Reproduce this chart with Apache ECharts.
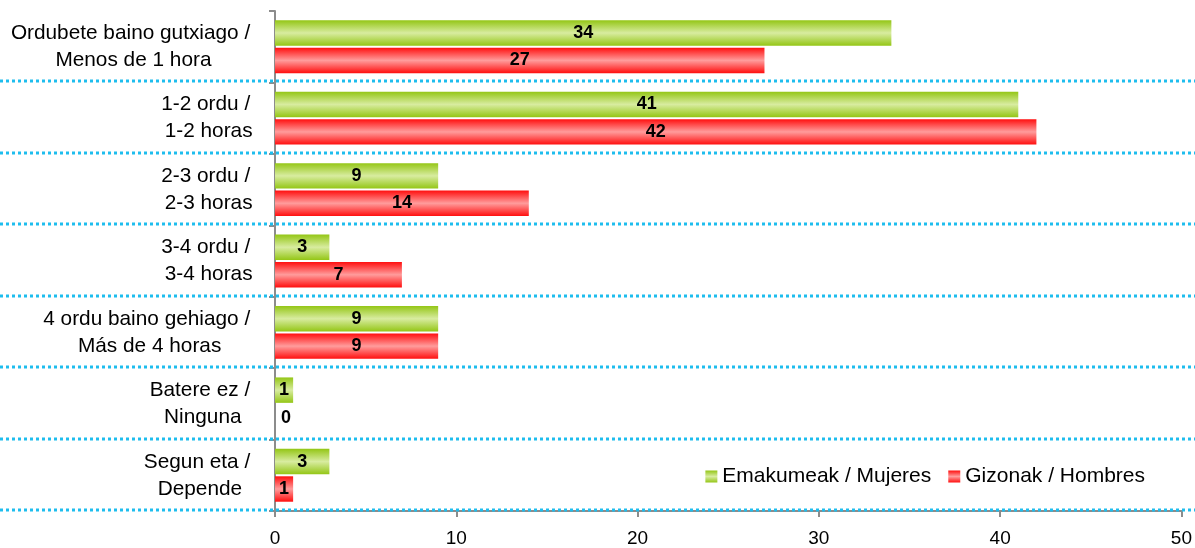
<!DOCTYPE html>
<html><head><meta charset="utf-8">
<script src="https://cdn.jsdelivr.net/npm/echarts@6/dist/echarts.min.js"></script>
<style>html,body{margin:0;padding:0;background:#fff}#c{width:1195px;height:548px}</style>
</head><body><div id="c"></div>
<script>
const categories = [
  "Ordubete baino gutxiago /\nMenos de 1 hora",
  "1-2 ordu /\n1-2 horas",
  "2-3 ordu /\n2-3 horas",
  "3-4 ordu /\n3-4 horas",
  "4 ordu baino gehiago /\nMás de 4 horas",
  "Batere ez /\nNinguna",
  "Segun eta /\nDepende"
];
const seriesNames = ["Emakumeak / Mujeres", "Gizonak / Hombres"];
const women = [34, 41, 9, 3, 9, 1, 3];
const men = [27, 42, 14, 7, 9, 0, 1];
const xTicks = [0, 10, 20, 30, 40, 50];

const FONT = "Liberation Sans, Arial, sans-serif";
function grad(edge, mid) {
  return new echarts.graphic.LinearGradient(0, 0, 0, 1, [
    {offset: 0, color: edge}, {offset: 0.5, color: mid}, {offset: 1, color: edge}
  ]);
}
const green = grad('#94c616', '#d8eca0');
const red = grad('#ff0f0f', '#ff9c9c');

function toData(arr) {
  return arr.map(v => v === 0
    ? {value: v, label: {position: 'right', distance: 6}}
    : v);
}

const chart = echarts.init(document.getElementById('c'));
const barLabel = {show: true, position: 'inside', color: '#000', fontWeight: 'bold', fontSize: 18, fontFamily: FONT};
const option = {
  animation: false,
  textStyle: {fontFamily: FONT},
  grid: {left: 275, right: 11, top: 11, bottom: 37, containLabel: false},
  legend: {
    data: seriesNames,
    right: 45, top: 461,
    itemWidth: 12, itemHeight: 12, itemGap: 17,
    icon: 'rect',
    textStyle: {fontSize: 21, color: '#000', fontFamily: FONT}
  },
  xAxis: {
    type: 'value', min: xTicks[0], max: xTicks[xTicks.length - 1], interval: 10,
    axisLine: {show: true, lineStyle: {color: '#8c8c8c', width: 2}},
    axisTick: {show: true, length: 6, lineStyle: {color: '#8c8c8c', width: 2}},
    axisLabel: {fontSize: 19, color: '#000', margin: 18, fontFamily: FONT},
    splitLine: {show: false}
  },
  yAxis: {
    type: 'category', data: categories, inverse: true,
    axisLine: {show: true, lineStyle: {color: '#8c8c8c', width: 2}},
    axisTick: {show: true, length: 6, lineStyle: {color: '#8c8c8c', width: 2}},
    axisLabel: {
      color: '#000', margin: 19, align: 'right', fontFamily: FONT, fontSize: 20.8, lineHeight: 27,
      formatter: function (v) {
        return v.split('\n').map((l, i) => '{a|' + l + (i === 0 ? ' ' : '') + '}').join('\n');
      },
      rich: {a: {align: 'center', fontSize: 20.8, lineHeight: 27, color: '#000', fontFamily: FONT}}
    },
    splitLine: {show: false}
  },
  series: [
    {
      name: seriesNames[0], type: 'bar', data: toData(women),
      itemStyle: {color: green},
      barCategoryGap: '26%', barGap: '8%',
      label: barLabel
    },
    {
      name: seriesNames[1], type: 'bar', data: toData(men),
      itemStyle: {color: red},
      barCategoryGap: '26%', barGap: '8%',
      label: barLabel
    }
  ]
};
chart.setOption(option);

// dotted separators between categories, spanning full width
const c0 = chart.convertToPixel({yAxisIndex: 0}, categories[0]);
const c1 = chart.convertToPixel({yAxisIndex: 0}, categories[1]);
const band = c1 - c0;
const lines = categories.map((cat, i) => {
  const y = Math.round(chart.convertToPixel({yAxisIndex: 0}, cat) + band / 2) - 1;
  return {
    type: 'line', z: 10, silent: true,
    shape: {x1: 0, y1: y, x2: 1195, y2: y},
    style: {stroke: '#1ebdee', lineWidth: 3, lineDash: [3, 3]}
  };
});
chart.setOption({graphic: lines});
</script></body></html>
